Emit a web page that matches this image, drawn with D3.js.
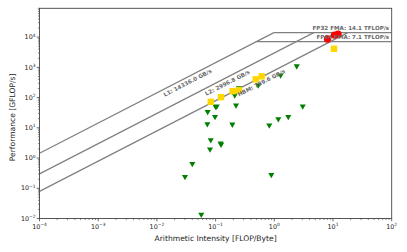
<!DOCTYPE html>
<html><head><meta charset="utf-8">
<script src="https://cdn.jsdelivr.net/npm/d3@7"></script>
<style>body{margin:0;background:#fff}svg{display:block}text{font-family:"DejaVu Sans",sans-serif}</style>
</head><body><svg id="c" width="407" height="252"></svg>
<script>
// Memory rooflines (GB/s)
const bandwidthNames = ["L1", "L2", "HBM"];
const bandwidthValues = [14336.0, 2996.8, 789.6];
// Compute ceilings (GFLOP/s)
const ceilingNames = ["FP32 FMA", "FP64 FMA"];
const ceilingValues = [14100, 7100];
const ceilingLabels = ["14.1", "7.1"];
// Measured kernels: [AI, GFLOP/s]
const greenAI   = [0.0733,0.1004,0.1045,0.223,0.0977,0.0723,0.193,0.822,1.17,1.73,3.05,0.0826,0.122,0.124,0.0803,0.0401,0.0301,0.889,0.057,2.41,1.28,0.533,0.25,0.212];
const greenPerf = [33.9,49.4,52.1,56.2,23.2,13.3,13.0,12.1,19.5,23.2,52.1,3.97,3.09,2.8,1.96,0.644,0.241,0.28,0.0135,1100,545,256,208,120];
const yellowAI   = [0.0826,0.1236,0.195,0.25,0.482,0.61,10.4];
const yellowPerf = [72.3,103,162.5,175,403,506,4120];
const redAI   = [8.06,10.6,12.2];
const redPerf = [8660,11700,12600];
const xTicks = [1e-4,1e-3,1e-2,1e-1,1e0,1e1,1e2];
const yTicks = [1e-2,1e-1,1e0,1e1,1e2,1e3,1e4];
const labelPerf = 435;

const svg = d3.select("#c");
const L = 39.5, R = 391.7, T = 8.3, B = 218.5;
const x = d3.scaleLog().domain([1e-4, 1e2]).range([L, R]);
const y = d3.scaleLog().domain([1e-2, 9e4]).range([B, T]);
const gray = "#808080";

svg.append("clipPath").attr("id","cp").append("rect")
  .attr("x",L).attr("y",T).attr("width",R-L).attr("height",B-T);
const g = svg.append("g").attr("clip-path","url(#cp)");

const peak = d3.max(ceilingValues);
const maxBw = d3.max(bandwidthValues);
bandwidthValues.forEach(bw => {
  g.append("line").attr("x1",x(1e-4)).attr("y1",y(bw*1e-4))
   .attr("x2",x(peak/bw)).attr("y2",y(peak))
   .attr("stroke",gray).attr("stroke-width",1.2);
});
ceilingValues.forEach(c => {
  g.append("line").attr("x1",x(c/maxBw)).attr("y1",y(c))
   .attr("x2",R).attr("y2",y(c)).attr("stroke",gray).attr("stroke-width",1.2);
});
const ang = Math.atan2(y(1)-y(10), x(10)-x(1)) * 180/Math.PI;
bandwidthValues.forEach((bw,i) => {
  const px = x(labelPerf/bw), py = y(labelPerf);
  svg.append("text").attr("transform",`translate(${px},${py}) rotate(${-ang})`)
    .attr("y",5.5).attr("text-anchor","middle").attr("dominant-baseline","middle")
    .attr("font-size",5.6).attr("fill","#6a6a6a").attr("font-weight","bold")
    .text(`${bandwidthNames[i]}: ${bw.toFixed(1)} GB/s`);
});
ceilingValues.forEach((c,i) => {
  svg.append("text").attr("x",R-2.5).attr("y",y(c)-2.2).attr("text-anchor","end")
    .attr("font-size",5.6).attr("fill","#6a6a6a").attr("font-weight","bold")
    .text(`${ceilingNames[i]}: ${ceilingLabels[i]} TFLOP/s`);
});

const tri = d3.symbol().type(d3.symbolTriangle).size(16);
greenAI.forEach((a,i) => {
  g.append("path").attr("d",tri).attr("transform",`translate(${x(a)},${y(greenPerf[i])}) rotate(180)`)
   .attr("fill","#008000");
});
yellowAI.forEach((a,i) => {
  g.append("rect").attr("x",x(a)-3.2).attr("y",y(yellowPerf[i])-3.2).attr("width",6.4).attr("height",6.4)
   .attr("fill","#FFD700");
});
redAI.forEach((a,i) => {
  g.append("circle").attr("cx",x(a)).attr("cy",y(redPerf[i])).attr("r",3.7).attr("fill","#FF0000");
});

svg.append("rect").attr("x",L).attr("y",T).attr("width",R-L).attr("height",B-T)
  .attr("fill","none").attr("stroke","#444").attr("stroke-width",0.9);

const minorX = [], minorY = [];
for (let e=-4;e<2;e++) for (let k=2;k<10;k++) minorX.push(k*Math.pow(10,e));
for (let e=-2;e<5;e++) for (let k=2;k<10;k++) { const v=k*Math.pow(10,e); if (v<=9e4) minorY.push(v); }
minorX.forEach(v => svg.append("line").attr("x1",x(v)).attr("x2",x(v)).attr("y1",B).attr("y2",B+1.6).attr("stroke","#444").attr("stroke-width",0.6));
minorY.forEach(v => svg.append("line").attr("y1",y(v)).attr("y2",y(v)).attr("x1",L).attr("x2",L-1.6).attr("stroke","#444").attr("stroke-width",0.6));
function sup(sel, v) {
  const e = Math.round(Math.log10(v));
  sel.append("tspan").text("10");
  sel.append("tspan").attr("dy",-2.6).attr("font-size",4.4).text(e<0 ? "\u2212"+(-e) : e);
}
xTicks.forEach(v => {
  svg.append("line").attr("x1",x(v)).attr("x2",x(v)).attr("y1",B).attr("y2",B+2.8).attr("stroke","#444").attr("stroke-width",0.8);
  const t = svg.append("text").attr("x",x(v)).attr("y",B+10).attr("text-anchor","middle").attr("font-size",6.4).attr("fill","#222");
  sup(t, v);
});
yTicks.forEach(v => {
  svg.append("line").attr("y1",y(v)).attr("y2",y(v)).attr("x1",L).attr("x2",L-2.8).attr("stroke","#444").attr("stroke-width",0.8);
  const t = svg.append("text").attr("x",L-4).attr("y",y(v)+2.2).attr("text-anchor","end").attr("font-size",6.4).attr("fill","#222");
  sup(t, v);
});
svg.append("text").attr("x",(L+R)/2).attr("y",B+22).attr("text-anchor","middle").attr("font-size",7.6).attr("fill","#222")
  .text("Arithmetic Intensity [FLOP/Byte]");
svg.append("text").attr("transform",`translate(15,${(T+B)/2+4}) rotate(-90)`).attr("text-anchor","middle").attr("font-size",7.6).attr("fill","#222")
  .text("Performance [GFLOP/s]");
</script></body></html>
